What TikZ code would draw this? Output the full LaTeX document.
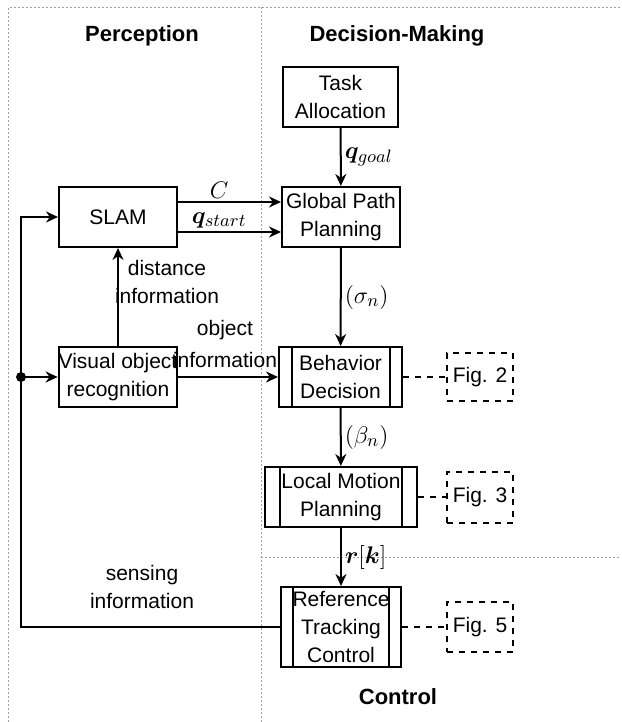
\documentclass[tikz,border=0pt]{standalone}
\usepackage{bm}
\usepackage[no-math]{fontspec}
\setmainfont{Liberation Sans}
\usetikzlibrary{arrows.meta}
\definecolor{divider}{RGB}{160,160,160}

\begin{document}
\begin{tikzpicture}[x=0.5pt, y=-0.5pt, line width=1pt,
    every node/.style={font=\fontsize{10.5}{14}\selectfont},
    box/.style={draw, inner sep=0pt, align=center, minimum height=30pt},
    process/.style={box, path picture={
        \draw ([xshift=#1]path picture bounding box.north west) -- ([xshift=#1]path picture bounding box.south west);
        \draw ([xshift=-#1]path picture bounding box.north east) -- ([xshift=-#1]path picture bounding box.south east);}},
    figbox/.style={draw, dashed, inner sep=0pt, minimum width=33pt, minimum height=24pt},
    arr/.style={-{Stealth[length=6pt, width=5.5pt]}},
    mathlabel/.style={font=\fontsize{13}{15}\selectfont, inner sep=1.5pt},
    title/.style={font=\fontsize{11}{13}\selectfont\bfseries},
    sep/.style={divider, line width=0.5pt, dash pattern=on 1pt off 1pt}]

    \useasboundingbox (0,0) rectangle (621,722);

    % dividers
    \draw[sep] (8,722) -- (8,7.5) -- (621,7.5);
    \draw[sep] (261,7.5) -- (261,722);
    \draw[sep] (261,557) -- (621,557);

    \node[title] (perception) at (142,36) {Perception};
    \node[title] (decision) at (397,36) {Decision-Making};
    \node[title] (control) at (398,697) {Control};

    \node[box, minimum width=57.5pt] (task) at (340.5,97) {Task\\Allocation};
    \node[box, minimum width=59pt] (slam) at (118,217) {SLAM};
    \node[box, minimum width=59pt] (global) at (341,217) {Global Path\\Planning};
    \node[box, minimum width=59pt] (visual) at (118,377) {Visual object\\recognition};
    \node[process=6.25pt, minimum width=61.5pt] (behavior) at (340.5,377) {Behavior\\Decision};
    \node[process=7.5pt, minimum width=76pt] (local) at (341,497) {Local Motion\\Planning};
    \node[process=6pt, minimum width=60pt, minimum height=40pt] (reference) at (341,627) {Reference\\Tracking\\Control};

    \node[figbox] (fig2) at (480,377) {Fig. 2};
    \node[figbox, minimum height=25.5pt] (fig3) at (480,497) {Fig. 3};
    \node[figbox, minimum height=25pt] (fig5) at (480,627) {Fig. 5};

    \node[align=center] (distinfo) at (167,282) {distance\\information};
    \node[align=center, font=\fontsize{10.5}{16}\selectfont] (objinfo) at (225,344) {object\\information};
    \node[align=center] (sensinfo) at (142,587) {sensing\\information};

    \draw[arr] (task) -- (global) node[midway, right, mathlabel] {$\bm{q}_{goal}$};
    \draw[arr] ([yshift=7.5pt]slam.east) -- ([yshift=7.5pt]global.west) node[pos=0.4, above, mathlabel] {$C$};
    \draw[arr] ([yshift=-7.5pt]slam.east) -- ([yshift=-7.5pt]global.west) node[pos=0.4, above, mathlabel] {$\bm{q}_{start}$};
    \draw[arr] (visual) -- (slam);
    \draw[arr] (visual) -- (behavior);
    \draw[arr] (global) -- (behavior) node[midway, right, mathlabel] {$(\sigma_n)$};
    \draw[arr] (behavior) -- (local) node[midway, right, mathlabel] {$(\beta_n)$};
    \draw[arr] (local) -- (reference) node[midway, right, mathlabel] {$\bm{r}[\bm{k}]$};

    % feedback loop
    \coordinate (split) at (21,377);
    \draw[arr] (reference.west) -| (split) |- (slam.west);
    \draw[arr] (split) -- (visual.west);
    \fill (split) circle (2.5pt);

    \draw[dashed] (behavior) -- (fig2);
    \draw[dashed] (local) -- (fig3);
    \draw[dashed] (reference) -- (fig5);

\end{tikzpicture}
\end{document}
